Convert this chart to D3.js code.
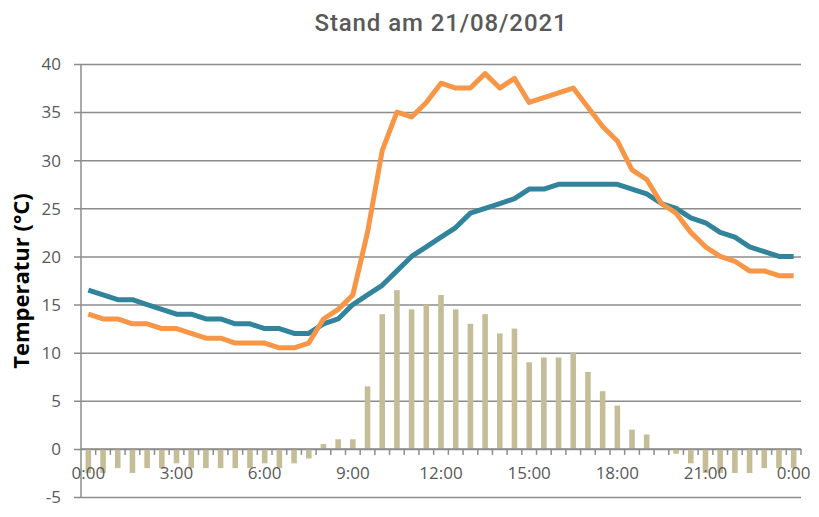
<!DOCTYPE html>
<html>
<head>
<meta charset="utf-8">
<script src="https://cdn.jsdelivr.net/npm/d3@7"></script>
<style>
  body { margin: 0; background: #fff; }
  #chart { width: 819px; height: 517px; }
  .tick-label { font-family: "Open Sans", sans-serif; font-size: 17px; fill: #595959; }
</style>
</head>
<body>
<div id="chart"></div>
<script>
// Half-hour categories
const times = ["0:00","0:30","1:00","1:30","2:00","2:30","3:00","3:30","4:00","4:30",
  "5:00","5:30","6:00","6:30","7:00","7:30","8:00","8:30","9:00","9:30",
  "10:00","10:30","11:00","11:30","12:00","12:30","13:00","13:30","14:00","14:30",
  "15:00","15:30","16:00","16:30","17:00","17:30","18:00","18:30","19:00","19:30",
  "20:00","20:30","21:00","21:30","22:00","22:30","23:00","23:30","0:00"];

// teal line
const tealValues = [16.5,16,15.5,15.5,15,14.5,14,14,13.5,13.5,13,13,12.5,12.5,12,12,
  13,13.5,15,16,17,18.5,20,21,22,23,24.5,25,25.5,26,27,27,27.5,
  27.5,27.5,27.5,27.5,27,26.5,25.5,25,24,23.5,22.5,22,21,20.5,20,20];

// orange line
const orangeValues = [14,13.5,13.5,13,13,12.5,12.5,12,11.5,11.5,11,11,11,10.5,10.5,11,
  13.5,14.5,16,22.5,31,35,34.5,36,38,37.5,37.5,39,37.5,38.5,36,36.5,37,
  37.5,35.5,33.5,32,29,28,25.5,24.5,22.5,21,20,19.5,18.5,18.5,18,18];

// bars (difference)
const barValues = [-2.5,-2.5,-2,-2.5,-2,-2,-1.5,-2,-2,-2,-2,-2,-1.5,-2,-1.5,-1,
  0.5,1,1,6.5,14,16.5,14.5,15,16,14.5,13,14,12,12.5,9,9.5,9.5,
  10,8,6,4.5,2,1.5,0,-0.5,-1.5,-2.5,-2.5,-2.5,-2.5,-2,-2,-2];

const yTicks = [-5,0,5,10,15,20,25,30,35,40];
const xLabelEvery = 6;

const W = 819, H = 517;
const plot = { left: 81, right: 801, top: 64, bottom: 497 };

const svg = d3.select('#chart').append('svg')
    .attr('width', W)
    .attr('height', H);

const x = d3.scaleBand()
    .domain(d3.range(times.length))
    .range([plot.left, plot.right])
    .paddingInner(0)
    .paddingOuter(0);

const y = d3.scaleLinear()
    .domain([-5, 40])
    .range([plot.bottom, plot.top]);

const cx = i => x(i) + x.bandwidth() / 2;

// Title
svg.append('text')
    .attr('x', 441)
    .attr('y', 31)
    .attr('text-anchor', 'middle')
    .style('font-family', '"Roboto", sans-serif')
    .style('font-size', '24px')
    .style('font-weight', 500)
    .style('letter-spacing', '0.9px')
    .style('fill', '#595959')
    .text('Stand am 21/08/2021');

// Y axis title
svg.append('text')
    .attr('transform', `translate(29,${281}) rotate(-90)`)
    .attr('text-anchor', 'middle')
    .style('font-family', '"Open Sans", sans-serif')
    .style('font-size', '22px')
    .style('font-weight', 'bold')
    .style('fill', '#000')
    .text('Temperatur (°C)');

// Gridlines + y axis
const yAxis = d3.axisLeft(y)
    .tickValues(yTicks)
    .tickSize(-(plot.right - plot.left))
    .tickPadding(20)
    .tickFormat(d => String(d));

const gy = svg.append('g')
    .attr('transform', `translate(${plot.left},0)`)
    .call(yAxis);
gy.select('.domain').remove();
gy.selectAll('.tick line')
    .attr('x1', -7)
    .attr('stroke', '#8c8c8c')
    .attr('stroke-width', 1.5);
gy.selectAll('.tick text')
    .attr('class', 'tick-label')
    .attr('dy', '0.34em');

svg.append('line')
    .attr('x1', plot.left).attr('x2', plot.left)
    .attr('y1', plot.top).attr('y2', plot.bottom)
    .attr('stroke', '#8c8c8c')
    .attr('stroke-width', 1.5);

// Bars
svg.append('g')
    .selectAll('rect')
    .data(barValues)
    .join('rect')
    .attr('x', (d, i) => cx(i) - x.bandwidth() * 0.19)
    .attr('width', x.bandwidth() * 0.38)
    .attr('y', d => y(Math.max(0, d)))
    .attr('height', d => Math.abs(y(d) - y(0)))
    .attr('fill', '#c4bd97');

// Category axis at zero
const gx = svg.append('g');
gx.append('line')
    .attr('x1', plot.left).attr('x2', plot.right)
    .attr('y1', y(0)).attr('y2', y(0))
    .attr('stroke', '#8c8c8c')
    .attr('stroke-width', 1.5);
gx.selectAll('.xtick')
    .data(d3.range(1, times.length + 1))
    .join('line')
    .attr('class', 'xtick')
    .attr('x1', i => i < times.length ? x(i) : plot.right)
    .attr('x2', i => i < times.length ? x(i) : plot.right)
    .attr('y1', y(0))
    .attr('y2', y(0) + 6)
    .attr('stroke', '#8c8c8c')
    .attr('stroke-width', 1.5);

// Lines
const line = d3.line()
    .x((d, i) => cx(i))
    .y(d => y(d));

svg.append('path')
    .datum(tealValues)
    .attr('d', line)
    .attr('fill', 'none')
    .attr('stroke', '#31849b')
    .attr('stroke-width', 5)
    .attr('stroke-linejoin', 'round');

svg.append('path')
    .datum(orangeValues)
    .attr('d', line)
    .attr('fill', 'none')
    .attr('stroke', '#f79646')
    .attr('stroke-width', 5)
    .attr('stroke-linejoin', 'round');

// X labels
gx.selectAll('.xlabel')
    .data(times.map((t, i) => ({ t, i })).filter(d => d.i % xLabelEvery === 0))
    .join('text')
    .attr('class', 'tick-label')
    .attr('x', d => cx(d.i))
    .attr('y', y(0) + 30)
    .attr('text-anchor', 'middle')
    .text(d => d.t);
</script>
</body>
</html>
